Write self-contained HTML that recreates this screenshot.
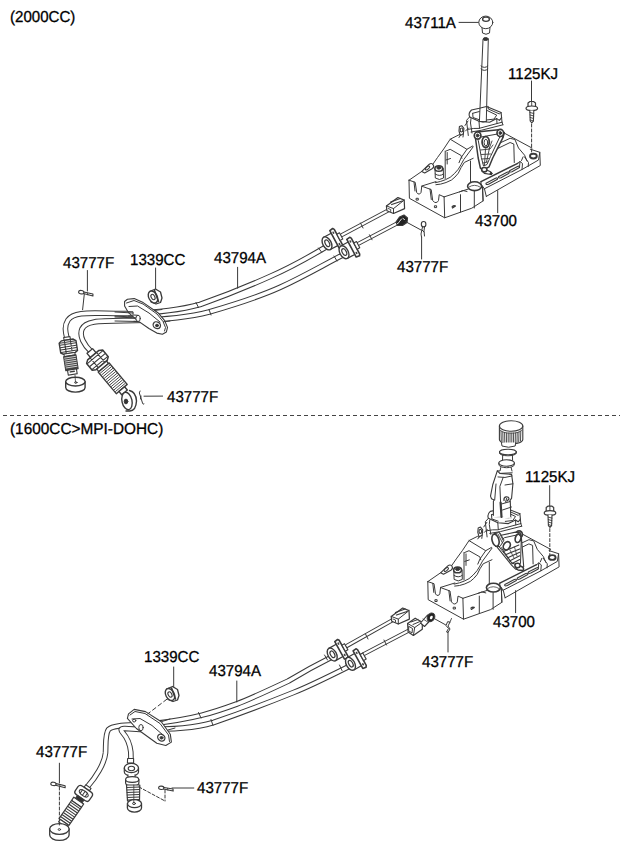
<!DOCTYPE html>
<html><head><meta charset="utf-8">
<style>
html,body{margin:0;padding:0;background:#fff;}
svg{display:block;}
text{text-rendering:geometricPrecision;font-family:"Liberation Sans",sans-serif;font-size:15.8px;fill:#000;stroke:#000;stroke-width:0.3px;}
</style></head><body>
<svg width="620" height="848" viewBox="0 0 620 848">
<g id="cab1" fill="none" stroke="#3a3a3a" stroke-width="1" stroke-linejoin="round" stroke-linecap="round">
 <!-- sheaths -->
 <path d="M 326 247 C 310 256.5, 292 267, 270 276.5 C 250 285.5, 230 294, 200 304.5 C 180 310, 160 312.5, 130 313.5 C 95 314, 75 310, 68 320 C 64 326, 65.5 332, 66.8 337.5" stroke="#3a3a3a" stroke-width="5.6"/>
 <path d="M 326 247 C 310 256.5, 292 267, 270 276.5 C 250 285.5, 230 294, 200 304.5 C 180 310, 160 312.5, 130 313.5 C 95 314, 75 310, 68 320 C 64 326, 65.5 332, 66.8 337.5" stroke="#fff" stroke-width="3.6"/>
 <path d="M 342 255.5 C 325 264, 305 276, 280 287.4 C 262 295.5, 240 303, 209 312 C 190 317, 170 319.5, 135 320.5 C 100 321, 86 320, 82 329 C 79 336, 84 345, 91.5 352" stroke="#3a3a3a" stroke-width="5.6"/>
 <path d="M 342 255.5 C 325 264, 305 276, 280 287.4 C 262 295.5, 240 303, 209 312 C 190 317, 170 319.5, 135 320.5 C 100 321, 86 320, 82 329 C 79 336, 84 345, 91.5 352" stroke="#fff" stroke-width="3.6"/>
 <path d="M196 302.5 L198.5 307.5 M209 309.5 L211 315 M318.5 248 L321.5 252 M334 256 L337 261"/>
 <!-- rods -->
 <path d="M 342 235 L 389 210" stroke="#3a3a3a" stroke-width="4.2"/>
 <path d="M 342 235 L 389 210" stroke="#fff" stroke-width="2.2"/>
 <path d="M 356 245 L 396 224" stroke="#3a3a3a" stroke-width="4.2"/>
 <path d="M 356 245 L 396 224" stroke="#fff" stroke-width="2.2"/>
 <path d="M360.5 223 L363 228 M369.5 234.8 L372 239.8"/>
 <!-- connector U -->
 <g transform="translate(-4.8 -410.5)"><g id="connU">
 <path d="M391.2 616.4 L402.7 608 L409 610.6 L409.4 619.1 L398.3 624 L391.7 621.3 Z" fill="#fff" stroke-width="1.2"/>
 <path d="M391.2 616.4 L398.3 619.1 L409 610.6 M398.3 619.1 L398.3 624" stroke-width="1"/>
 <path d="M395.5 612.5 L405 609 M396.5 615 L407 611.5" stroke-width="1.3"/>
 <path d="M393 619 L395.5 620 L395.5 622" stroke-width="0.9"/>
</g></g>
 <!-- eyelet L -->
 <path d="M396 222 L399.5 217 L404 215 L407.5 218 L407 222.5 L402.5 225.5 L397.5 225.5 Z" fill="#222" stroke-width="1.2"/>
 <path d="M399.5 221.5 L401.5 219 M397.5 223.5 L399 222.5 M403 218.5 L404.5 219.5" stroke="#fff" stroke-width="0.9"/>
 <line x1="405.5" y1="221.6" x2="421" y2="230"/>
 <!-- bushing U -->
 <g transform="translate(327 243.4) rotate(-28)">
  <path d="M0 -7 L9 -7 L9 7 L0 7" fill="#fff" stroke-width="1.2"/>
  <ellipse cx="0" cy="0" rx="4.2" ry="7" fill="#fff" stroke-width="1.4"/>
  <ellipse cx="0.3" cy="0" rx="2" ry="3.6" stroke-width="1.2"/>
  <path d="M8.5 -10 L12 -10.5 L13 -9 L13 9 L12 10.5 L8.5 10 Z" fill="#fff" stroke-width="1.6"/>
  <ellipse cx="10.7" cy="-6.5" rx="0.9" ry="1.3" fill="#444" stroke="none"/><ellipse cx="10.7" cy="6.5" rx="0.9" ry="1.3" fill="#444" stroke="none"/>
  <path d="M13 -3.5 L16 -3.5 L16 3.5 L13 3.5 Z" fill="#fff" stroke-width="1.1"/>
</g>
 <!-- bushing L -->
 <g transform="translate(344 252.2) rotate(-28)">
  <path d="M0 -7 L9 -7 L9 7 L0 7" fill="#fff" stroke-width="1.2"/>
  <ellipse cx="0" cy="0" rx="4.2" ry="7" fill="#fff" stroke-width="1.4"/>
  <ellipse cx="0.3" cy="0" rx="2" ry="3.6" stroke-width="1.2"/>
  <path d="M8.5 -10 L12 -10.5 L13 -9 L13 9 L12 10.5 L8.5 10 Z" fill="#fff" stroke-width="1.6"/>
  <ellipse cx="10.7" cy="-6.5" rx="0.9" ry="1.3" fill="#444" stroke="none"/><ellipse cx="10.7" cy="6.5" rx="0.9" ry="1.3" fill="#444" stroke="none"/>
  <path d="M13 -3.5 L16 -3.5 L16 3.5 L13 3.5 Z" fill="#fff" stroke-width="1.1"/>
</g>
 <!-- bracket plate -->
 <path d="M124.6 301.5 L127.4 299.2 L134.2 298.6 L143.2 302.6 L157.9 312.7 L164.7 320.6 L167.5 327.4 L166.4 331.9 L162.4 334.2 L156.8 333.1 L148.9 328.5 L137.6 320.6 L128.5 312.7 L124.6 306 Z" fill="#fff" stroke-width="1.1"/>
 <path d="M126.5 303 L134 300.5 L143 304 L157 314 L163 321.5 L165.5 327.5 L164.5 331"/>
 <path d="M129 306.5 L137.5 306 L149 313 L160 322"/>
 <ellipse cx="156.8" cy="325.2" rx="3.8" ry="3.2" transform="rotate(30 156.8 325.2)" stroke-width="1.3"/>
 <ellipse cx="157" cy="325.5" rx="1.5" ry="1.3" fill="#333"/>
 <!-- cables over bracket -->
 <path d="M115 312 L133 313 M115 316 L132 317" />
 <path d="M115 317 L138 318 M115 321 L138 321.5"/>
 <path d="M128.5 311.6 L133 311.8 L133 316.2 L128.5 316.1"/>
 <ellipse cx="138.1" cy="318.4" rx="2.2" ry="3.1" fill="#fff"/>
 <path d="M134 315 L138 315.3 M134 321.3 L138 321.5"/>
 <path d="M154.5 310.5 L162 309.5 M163.5 321.8 L170 321"/>
 <!-- nut 1339CC -->
 <line x1="155.6" y1="268" x2="155.6" y2="289.5"/>
 <path d="M149.5 291.5 L155.5 289 L160.5 292 L162 298 L160.5 302.5 L156 304 L151 302 Z" fill="#fff" stroke-width="1.3"/>
 <ellipse cx="153" cy="297" rx="4.2" ry="6.4" transform="rotate(-28 153 297)" fill="#fff" stroke-width="1.4"/>
 <path d="M154.5 290.5 L158.5 301.5" stroke-width="1.6"/>
 <ellipse cx="153" cy="297" rx="1.8" ry="2.9" transform="rotate(-28 153 297)" stroke-width="1.1"/>
 <!-- leader 43794A -->
 <line x1="237.6" y1="267.3" x2="237.6" y2="288.2"/>
 <!-- left clip 43777F -->
 <line x1="87.4" y1="270.5" x2="87.4" y2="291"/>
 <g transform="translate(78.6 291.8) rotate(8)"><ellipse cx="2.7" cy="0" rx="2.7" ry="1.7" stroke-width="1.1"/><path d="M5.3 -0.6 L14.5 0.2 L14.8 2.2 L5 1" stroke-width="1.1"/><path d="M9 0 L9.5 1.8" stroke-width="0.8"/></g>
 <path d="M84.3 294.2 L82.6 309.7"/>
 <!-- cable end A -->
 <g transform="translate(66.8 337) rotate(81)">
  <path d="M0 -3.2 L3 -3.2 L3 3.2 L0 3.2 Z" fill="#fff" stroke-width="1.1"/>
  <path d="M3 -6 L5 -8.5 L15 -8.5 L16.5 -6 L16.5 6 L15 8.5 L5 8.5 L3 6 Z" fill="#fff" stroke-width="1.4"/>
  <path d="M5 -8 L5 8 M7 -8 L7 8 M9.5 -8 L9.5 8 M12 -8 L12 8 M14.5 -8 L14.5 8 M3.5 -3 L16 -3 M3.5 3 L16 3" stroke-width="1"/>
  <path d="M16.5 -5.5 L19 -5.5 L19 5.5 L16.5 5.5 Z" fill="#fff"/>
  <path d="M19 -6.2 L33 -6.2 L33 6.2 L19 6.2 Z" fill="#444" stroke-width="1.2"/>
  <path d="M20.5 -5.5 L20.5 5.5 M22.5 -5.5 L22.5 5.5 M24.5 -5.5 L24.5 5.5 M26.5 -5.5 L26.5 5.5 M28.5 -5.5 L28.5 5.5 M30.5 -5.5 L30.5 5.5" stroke="#fff" stroke-width="0.7"/>
  <path d="M33 -4.5 L38 -4.5 L38 4.5 L33 4.5 Z" fill="#fff" stroke-width="1.1"/>
  <path d="M35 -2 L35 2" stroke-width="1.5"/>
 </g>
 <path d="M65.7 381.6 L65.7 387.5 A9.7 4.6 0 0 0 85.1 387.5 L85.1 381.6" fill="#fff" stroke-width="1.4"/>
 <ellipse cx="75.4" cy="381.6" rx="9.7" ry="4.4" fill="#fff" stroke-width="1.4"/>
 <path d="M75 375 L75.5 382" stroke-width="0.8"/>
 <ellipse cx="75.8" cy="382.5" rx="1.2" ry="0.8"/>
 <!-- cable end B -->
 <g transform="translate(89.8 351) rotate(50) scale(1.08 1.05)">
  <path d="M0 -3.5 L5 -3.5 L5 3.5 L0 3.5 Z" fill="#fff" stroke-width="1.2"/>
  <path d="M5 -7 L7 -10 L15 -10 L17 -7 L17 7 L15 10 L7 10 L5 7 Z" fill="#fff" stroke-width="1.4"/>
  <path d="M7.5 -9.5 L7.5 9.5 M11 -9.5 L11 9.5 M14.5 -9.5 L14.5 9.5 M5.5 -4 L16.5 -4 M5.5 4 L16.5 4" stroke-width="1"/>
  <path d="M17 -6 L20 -6 L20 6 L17 6 Z" fill="#fff" stroke-width="1.2"/>
  <path d="M20 -6.8 L46 -6.8 L46 6.8 L20 6.8 Z" fill="#fff" stroke-width="1.3"/>
  <path d="M22 -6 L22 6 M24 -6 L24 6 M26 -6 L26 6 M28 -6 L28 6 M30 -6 L30 6 M32 -6 L32 6 M34 -6 L34 6 M36 -6 L36 6 M38 -6 L38 6 M40 -6 L40 6 M42 -6 L42 6 M44 -6 L44 6" stroke-width="0.8"/>
  <path d="M46 -3.5 L50 -3.5 L50 3.5 L46 3.5 Z" fill="#fff" stroke-width="1.3"/>
 </g>
 <path d="M129.5 390.5 Q136 392 136.5 401 Q136 410.5 130 411 L126 411" fill="#fff" stroke-width="1.4"/>
 <ellipse cx="127" cy="401" rx="5" ry="8.8" transform="rotate(-12 127 401)" fill="#fff" stroke-width="1.4"/>
 <ellipse cx="126" cy="401.5" rx="1.8" ry="2.4" fill="#333"/>
 <!-- clip 43777F bottom -->
 <path d="M140 391 Q138.5 393 140 395 L142.5 403 Q143 405 144 404 M141 396 L140.5 399" stroke-width="1"/>
 <line x1="144" y1="396.2" x2="162.6" y2="396.1"/>
 <!-- clip 43777F right -->
 <ellipse cx="423.6" cy="224.2" rx="2.3" ry="2.7" stroke-width="1.1"/>
 <path d="M422.5 227 L421 234 L421.5 237 M424.5 227 L424 231 L424.5 236 M422 230 L424 232" stroke-width="1"/>
 <line x1="421.6" y1="237" x2="421.6" y2="259"/>
</g>
<g id="shift1" fill="none" stroke="#3a3a3a" stroke-width="1" stroke-linejoin="round" stroke-linecap="round"><!-- ===== base ===== -->
 <path d="M409 180.2 L409.4 198.3 L444.7 217.8 L444.1 196.9"/>
 <path d="M409 180.2 L415.2 182.3 L416.7 192.5 Q418 194.5 419.2 194 Q420.8 193.5 421 192.5 L421.8 186 L423.2 186.7 L431.2 189.6 L432.7 200.5 Q434.5 203 436 202.6 Q438 202 438.5 200.5 L439.2 194.7 L444.1 196.9"/>
 <path d="M414 182 L415 191 M430 189 L431.3 199.5"/>
 <rect x="416.5" y="198.3" width="1.8" height="1.8"/>
 <rect x="434.8" y="205.8" width="1.8" height="1.8"/>
 <path d="M421.8 186 L436 181.6"/>
 <path d="M409 180.2 L421.8 171.4"/>
 <path d="M421.8 171.4 L429 164.5 Q431.5 162.5 433.2 164.8 Q434.5 166.8 432.5 168.5 L424.7 172.9 Z" fill="#fff" stroke-width="1.1"/>
 <ellipse cx="427.5" cy="168" rx="2.6" ry="1.2" transform="rotate(-40 427.5 168)"/>
 <!-- nut column -->
 <path d="M435 168.5 L435.3 178 Q439.5 181 443.5 178 L443.3 168.5" fill="#fff"/>
 <ellipse cx="438.8" cy="168.5" rx="3.9" ry="2.8" fill="#fff" stroke-width="1.6"/>
 <ellipse cx="438.8" cy="167.8" rx="2" ry="1.4" fill="#333"/>
 <path d="M435.2 174 Q439.5 177 443.4 174"/>
 <!-- tower -->
 <path d="M433 164 L437.5 157.5 L443.7 149 L450.2 139.2 L459 134.8 L460.4 134.4"/>
 <path d="M450.2 139.2 L466.9 149.3 L472.7 146"/>
 <path d="M466.9 149.3 L461.1 157.7 L459 162.7"/>
 <path d="M445.2 151.1 L445.2 178.5"/>
 <path d="M445.9 151.1 L450.2 149.3 L461.1 155.5 L461.9 158.4 M447.2 152.5 L447.2 164 M446 160 L450.5 158.5"/>
 <path d="M473.2 146.8 L463.7 159.7 Q461 165 458.3 169.2 Q454.5 174 450.2 177.3 Q445.5 180 440.7 181.4 L435.3 182.7"/>
 <path d="M473.2 158.3 L464.4 162.4 Q461 167 458.3 173.2 Q455 177.5 451.5 180 Q446 183 440.7 184.1 L435.9 184.7"/>
 <path d="M470.5 161 L470.5 183"/>
 <!-- front block -->
 <path d="M444.1 196.9 L459.4 191.9 L468.4 189"/>
 <path d="M444.7 217.8 L460.5 212.2 L471.8 208.2 L483.1 200.9 L482.5 186.8"/>
 <path d="M460.5 194.7 L460.5 212.2 M474.3 191.3 L474.3 208 M482.5 186.8 L483.1 200.9"/>
 <ellipse cx="474.6" cy="186.2" rx="7" ry="4.4" fill="#fff" stroke-width="1.6"/>
 <path d="M469 187 Q474.5 183.5 480 187" stroke-width="0.8"/>
 <path d="M452.5 208 L455.5 206 M452 206.8 Q453.5 205.3 455 205.8" stroke-width="1.2"/>
 <path d="M459.4 191.9 L463 190.5 L467 191.5"/>
 <!-- platform -->
 <path d="M486.3 196.4 L540.3 165.5 L539.8 152.3 L530.3 149.2"/>
 <path d="M484 189 L522 169.5 L538.5 160 L539.8 152.3"/>
 <path d="M486.3 196.4 L484.5 189 L481 184 L481 181.7"/>
 <path d="M481 181.7 L517.7 163.3" stroke-width="1.5"/>
 <path d="M517.7 163.3 L520 161.5 L522.5 163.5 L522 169.5 M520 161.5 L519.5 167"/>
 <g transform="translate(0.5 -2.8)"><path d="M485.5 186 L495 181 Q497.5 180 497 182 L488 187 Q485 188 485.5 186 Z" stroke-width="1.1"/><path d="M498 179.5 L506.5 175 Q509 174 508.5 176 L500.5 180.5 Q497.5 181.5 498 179.5 Z" stroke-width="1.1"/><path d="M509 173.5 L517 169.3 Q519.5 168.3 519 170.3 L511.5 174.5 Q508.5 175.5 509 173.5 Z" stroke-width="1.1"/></g>
 <ellipse cx="533.4" cy="156.1" rx="3.4" ry="2.4" stroke-width="1.9"/>
 <path d="M524.4 156.8 L528.5 162.5 L528.2 166.5"/>
 <!-- rear bracket -->
 <path d="M502.8 132.3 L531.9 148"/>
 <path d="M496.8 144.4 L510.1 138.3 L514.9 139.5 L518.5 148 L524.6 155.2 L527 161"/>
 <path d="M497.5 148.6 L510.1 142.5 L513.8 144 L514.3 162.5"/>
 <path d="M521.5 160.5 L523 157"/>
 <!-- lever plate -->
 <path d="M475.3 137 L476.8 131.9 L498.5 129.8 L504.3 132.7 L502.9 137.7 L492.7 158 L489.1 166.8 L484 169.7 L480.4 168.2 L478.2 158 Z" fill="#fff" stroke-width="1.5"/>
 <path d="M478.5 140 L481 137 L497.5 134 L500 136.5 L490.5 156.5 L487 164.5 L483.5 166 L481.5 158 Z" stroke-width="1"/>
 <ellipse cx="485.7" cy="142.1" rx="3.6" ry="5.4" stroke-width="1.8"/>
 <ellipse cx="485.9" cy="142.6" rx="1.8" ry="3.3" stroke-width="1"/>
 <path d="M480.5 150 L490 149 L493 145 M481.5 154.5 L490.5 154 M482 159 L488.5 158.5 M483 163 L487.5 162" stroke-width="0.9"/>
 <path d="M485.5 149 L484.5 165 M489.5 148 L486.5 162 M492 141 L489 149" stroke-width="0.9"/>
 <path d="M502.9 137.7 L501 134.5" />
 <!-- pin -->
 <path d="M482.3 168 L490.5 171.8 Q492.5 173.5 491 174.5 L484.5 173.4 Q481.5 171.5 482.3 168 Z" fill="#fff" stroke-width="1.2"/>
 <ellipse cx="484.3" cy="169.7" rx="2.6" ry="2.2" fill="#fff" stroke-width="1.6"/>
 <ellipse cx="491" cy="173.5" rx="1" ry="1.2" fill="#333"/>
<!-- yoke -->
 <path d="M469.6 116.9 Q468 113 471.5 110 L479.4 108.3 L486.5 106.5 L501.1 112.4 L501.6 117.7 L499.4 120.4 L496.7 118.6 L489.6 122.2 L479 121.3 Z" fill="#fff" stroke-width="1.1"/>
 <path d="M472.7 113.3 L479.4 111.5 M486.5 110.2 L496.7 115.1 L494 119.1 L486.5 120 M479.4 119.8 L473 117.5 L472.7 113.3" stroke-width="1"/>
 <path d="M488 106.3 L488.3 109 L499.5 114 L501.1 112.4"/>
 <path d="M469.6 116.9 L466.5 120.4 L468.3 135.5 M471 118.5 L470.5 123 L472 133"/>
 <path d="M468.3 129.3 Q474 128 479 128.4 L502 122.2 M471 132 L481.6 130.2 L502.9 124.8 M502 122.2 L502.9 124.8"/>
 <path d="M479 121.3 L479.5 128.3 M496.7 118.6 L497 123.5 M501.6 117.7 L502 122.2"/>
 <path d="M465 125.5 L468 121 M465.5 131 L468.5 128"/>
 <path d="M459.4 126.6 L461.7 125.7 L463.9 128.4 L463.4 133.7 L460.3 135.5 L459 131 Z" fill="#fff" stroke-width="1.1"/>
 <ellipse cx="461.5" cy="130" rx="1.3" ry="2" stroke-width="1.1"/>
 <path d="M460.3 135.5 L459 137.5 M463.4 133.7 L463 137"/>
 <ellipse cx="477.6" cy="135.5" rx="3.3" ry="3.6" fill="#fff" stroke-width="1.7"/>
 <ellipse cx="500.3" cy="133" rx="3.3" ry="3.6" fill="#fff" stroke-width="1.7"/>
 <ellipse cx="477.6" cy="135.5" rx="1.3" ry="1.5" fill="#333"/>
 <ellipse cx="500.3" cy="133" rx="1.3" ry="1.5" fill="#333"/>
<!-- knob -->
 <line x1="459" y1="22.4" x2="479" y2="22.4"/>
 <path d="M482 27.5 L482.5 33 Q486 35.5 489.5 33 L490 27.5" fill="#fff"/>
 <ellipse cx="485.8" cy="22.4" rx="7" ry="6.3" fill="#fff"/>
 <ellipse cx="486" cy="19.2" rx="3.4" ry="2.1" stroke-width="1.3"/>
 <ellipse cx="485.7" cy="39" rx="2.5" ry="1.5" fill="#333"/>
 <!-- rod -->
 <path d="M483 39.5 L479.4 121.8 M488.3 39.5 L486.3 121.8" />
 <path d="M479.6 121.5 Q483 123 486.3 121.5"/>
 <path d="M481 66 Q484.5 69 487.8 66 M481 69 Q484.5 72 487.8 69"/>
 <!-- bolt 1125KJ -->
 <line x1="531.5" y1="81" x2="531.5" y2="102"/>
 <path d="M528 103 L530 101.5 L533.5 101.5 L535.5 103 L535.5 107.5 L528 107.5 Z" fill="#fff" stroke-width="1.2"/>
 <path d="M531.7 101.8 L531.7 107.5" stroke-width="0.9"/>
 <ellipse cx="531.8" cy="108.3" rx="5.8" ry="2.3" fill="#fff" stroke-width="1.2"/>
 <path d="M529.8 110.5 L530.2 121 L531.8 122.8 L533.4 121 L533.8 110.5" fill="#fff" stroke-width="1.1"/>
 <path d="M530 112.5 L533.8 113.5 M530.1 115 L533.7 116 M530.2 117.5 L533.6 118.5 M530.3 120 L533.5 121" stroke-width="0.9"/>
 <line x1="531.6" y1="124" x2="531.6" y2="153" stroke-dasharray="3 2"/>
<!-- leader 43700 -->
 <line x1="497.7" y1="190.6" x2="497.7" y2="212.7"/>
</g>
<g id="cab2" fill="none" stroke="#3a3a3a" stroke-width="1" stroke-linejoin="round" stroke-linecap="round"> <!-- sheaths -->
 <path d="M 331 657.5 C 310 668, 300 674, 288.4 681 C 265 692, 245 701, 236.8 704 C 215 712, 195 719, 150 724 C 130 725.5, 114 724.5, 108.5 729.5 C 105 734, 106 745, 105.5 753 C 104.5 764, 95 778, 88 786" stroke="#3a3a3a" stroke-width="5.6"/>
 <path d="M 331 657.5 C 310 668, 300 674, 288.4 681 C 265 692, 245 701, 236.8 704 C 215 712, 195 719, 150 724 C 130 725.5, 114 724.5, 108.5 729.5 C 105 734, 106 745, 105.5 753 C 104.5 764, 95 778, 88 786" stroke="#fff" stroke-width="3.6"/>
 <path d="M 349 666.5 C 320 681, 300 690, 293.5 692.5 C 270 702, 250 710, 213.5 722.5 C 195 728, 175 729.5, 140 729.5 L 125 728.5 Q 118.5 728, 123 733 C 127.5 738, 130 745, 130.8 752 L 131 760" stroke="#3a3a3a" stroke-width="5.6"/>
 <path d="M 349 666.5 C 320 681, 300 690, 293.5 692.5 C 270 702, 250 710, 213.5 722.5 C 195 728, 175 729.5, 140 729.5 L 125 728.5 Q 118.5 728, 123 733 C 127.5 738, 130 745, 130.8 752 L 131 760" stroke="#fff" stroke-width="3.6"/>
 <path d="M198.5 712.5 L201 718 M211 719.5 L213 725.5 M324.5 655 L327.5 660 M339.5 665 L342 670.5"/>
 <!-- rods -->
 <path d="M 347 645.8 L 392 620.5" stroke="#3a3a3a" stroke-width="4.2"/>
 <path d="M 347 645.8 L 392 620.5" stroke="#fff" stroke-width="2.2"/>
 <path d="M 363 654.5 L 408 631" stroke="#3a3a3a" stroke-width="4.2"/>
 <path d="M 363 654.5 L 408 631" stroke="#fff" stroke-width="2.2"/>
 <path d="M365.5 634 L368 639 M384 640 L386.5 645"/>
 <!-- connector U2 -->
 <g id="connU">
 <path d="M391.2 616.4 L402.7 608 L409 610.6 L409.4 619.1 L398.3 624 L391.7 621.3 Z" fill="#fff" stroke-width="1.2"/>
 <path d="M391.2 616.4 L398.3 619.1 L409 610.6 M398.3 619.1 L398.3 624" stroke-width="1"/>
 <path d="M395.5 612.5 L405 609 M396.5 615 L407 611.5" stroke-width="1.3"/>
 <path d="M393 619 L395.5 620 L395.5 622" stroke-width="0.9"/>
</g>
 <!-- connector L2 -->
 <path d="M407.6 623.5 L415.2 618.2 L422.3 622.2 L422.3 629.3 L413.4 635.5 L408.1 632 Z" fill="#fff" stroke-width="1.2"/>
 <path d="M407.6 623.5 L414.7 627.5 L422.3 622.2 M414.7 627.5 L413.4 635.5" stroke-width="1"/>
 <path d="M409 626.5 L412.5 628.5 L412 633 L409 631 Z" stroke-width="1"/>
 <path d="M411 622 L418 619.5 M413 624.5 L420 621.5" stroke-width="1"/>
 <!-- eyelet link -->
 <path d="M420.5 623 L427.5 615 L431.5 619 L424.5 626.5 Z" fill="#fff" stroke-width="1.1"/>
 <path d="M423 619 L428.5 622.5" stroke-width="0.8"/>
 <ellipse cx="431" cy="617.3" rx="3.6" ry="4.6" transform="rotate(30 431 617.3)" fill="#222" stroke-width="1"/>
 <ellipse cx="431.3" cy="617.5" rx="1.3" ry="1.9" transform="rotate(30 431.3 617.5)" fill="#fff" stroke="none"/>
 <line x1="435" y1="619" x2="445.5" y2="624.8"/>
 <!-- clip 43777F -->
 <path d="M447.5 622 L446 625.5 L448.5 628.5 L446.5 632 L448 632.5 L450 629 L448 626 L449.8 622.5 Z" stroke-width="1"/>
 <path d="M449.8 622.5 L451.5 618.5" stroke-width="0.9"/>
 <line x1="448" y1="632" x2="448" y2="652"/>
 <!-- bushings -->
 <g transform="translate(332.2 654.5) rotate(-29)">
  <path d="M0 -7 L9 -7 L9 7 L0 7" fill="#fff" stroke-width="1.2"/>
  <ellipse cx="0" cy="0" rx="4.2" ry="7" fill="#fff" stroke-width="1.4"/>
  <ellipse cx="0.3" cy="0" rx="2" ry="3.6" stroke-width="1.2"/>
  <path d="M8.5 -10 L12 -10.5 L13 -9 L13 9 L12 10.5 L8.5 10 Z" fill="#fff" stroke-width="1.6"/>
  <ellipse cx="10.7" cy="-6.5" rx="0.9" ry="1.3" fill="#444" stroke="none"/><ellipse cx="10.7" cy="6.5" rx="0.9" ry="1.3" fill="#444" stroke="none"/>
  <path d="M13 -3.5 L16 -3.5 L16 3.5 L13 3.5 Z" fill="#fff" stroke-width="1.1"/>
</g>
 <g transform="translate(350.5 663.8) rotate(-29)">
  <path d="M0 -7 L9 -7 L9 7 L0 7" fill="#fff" stroke-width="1.2"/>
  <ellipse cx="0" cy="0" rx="4.2" ry="7" fill="#fff" stroke-width="1.4"/>
  <ellipse cx="0.3" cy="0" rx="2" ry="3.6" stroke-width="1.2"/>
  <path d="M8.5 -10 L12 -10.5 L13 -9 L13 9 L12 10.5 L8.5 10 Z" fill="#fff" stroke-width="1.6"/>
  <ellipse cx="10.7" cy="-6.5" rx="0.9" ry="1.3" fill="#444" stroke="none"/><ellipse cx="10.7" cy="6.5" rx="0.9" ry="1.3" fill="#444" stroke="none"/>
  <path d="M13 -3.5 L16 -3.5 L16 3.5 L13 3.5 Z" fill="#fff" stroke-width="1.1"/>
</g>
 <!-- bracket plate -->
 <path d="M128.5 713.9 L134.2 709.4 L145.5 711.6 L161.3 721.8 L170.3 734.2 L171.4 742.1 L165.8 745.5 L156.8 743.2 L136.4 728.5 L127.4 718.4 Z" fill="#fff" stroke-width="1.1"/>
 <path d="M130 715 L135 711.5 L145 713.5 L160 723.5 L168.5 735 L169.5 741.5"/>
 <path d="M132 719 L140 718.5 L152 725.5 L163 735"/>
 <ellipse cx="161.3" cy="737.6" rx="3.8" ry="3.2" transform="rotate(35 161.3 737.6)" stroke-width="1.3"/>
 <ellipse cx="161.5" cy="737.8" rx="1.5" ry="1.3" fill="#333"/>
 <ellipse cx="134.2" cy="720.6" rx="1.6" ry="1.4"/>
 <!-- cables over bracket -->
 <ellipse cx="141" cy="727.6" rx="2.2" ry="3.1" fill="#fff"/>
 <path d="M162 721.5 L170 719 M168 730 L175 728"/>
 <!-- nut 1339CC -->
 <line x1="173.7" y1="667" x2="173.7" y2="687"/>
 <g transform="translate(17 397.5)">
 <path d="M149.5 291.5 L155.5 289 L160.5 292 L162 298 L160.5 302.5 L156 304 L151 302 Z" fill="#fff" stroke-width="1.3"/>
 <ellipse cx="153" cy="297" rx="4.2" ry="6.4" transform="rotate(-28 153 297)" fill="#fff" stroke-width="1.4"/>
 <path d="M154.5 290.5 L158.5 301.5" stroke-width="1.6"/>
 <ellipse cx="153" cy="297" rx="1.8" ry="2.9" transform="rotate(-28 153 297)" stroke-width="1.1"/>
 </g>
 <line x1="166.9" y1="699.2" x2="147.7" y2="713.9" stroke-dasharray="4 3"/>
 <!-- leader 43794A -->
 <line x1="236.8" y1="681" x2="236.8" y2="702"/>
 <!-- cable end A2 -->
 <g transform="translate(88.4 786.6) rotate(124.6)">
  <path d="M0 -3.2 L3 -3.2 L3 3.2 L0 3.2 Z" fill="#fff" stroke-width="1.1"/>
  <path d="M3 -5 Q3 -8.5 6 -8.5 L11 -8.5 Q13.5 -8.5 13.5 -5 L13.5 5 Q13.5 8.5 11 8.5 L6 8.5 Q3 8.5 3 5 Z" fill="#fff" stroke-width="1.3"/>
  <ellipse cx="8.2" cy="0" rx="2.5" ry="5.2" stroke-width="1.1"/>
  <path d="M6 -3 L10 -3 M6 0 L10.5 0 M6 3 L10 3" stroke-width="1"/>
  <path d="M13.5 -4 L17 -4 L17 4 L13.5 4 Z" fill="#333" stroke-width="1"/>
  <path d="M17 -6 L21 -6 L21 6 L17 6 Z" fill="#fff" stroke-width="1.2"/>
  <path d="M21 -6 L43 -6 L43 6 L21 6 Z" fill="#fff" stroke-width="1.2"/>
  <path d="M23 -5.5 L23 5.5 M25.5 -5.5 L25.5 5.5 M28 -5.5 L28 5.5 M30.5 -5.5 L30.5 5.5 M33 -5.5 L33 5.5 M35.5 -5.5 L35.5 5.5 M38 -5.5 L38 5.5 M40.5 -5.5 L40.5 5.5" stroke-width="1.1"/>
  <path d="M43 -4.5 L46 -4.5 L46 4.5 L43 4.5 Z" fill="#fff" stroke-width="1.1"/>
 </g>
 <path d="M49.7 829 L49.7 835 A9.7 5.4 0 0 0 69.1 835 L69.1 829" fill="#fff" stroke-width="1.3"/>
 <ellipse cx="59.4" cy="829" rx="9.7" ry="5.4" fill="#fff" stroke-width="1.3"/>
 <ellipse cx="59.4" cy="829.5" rx="1.2" ry="0.9"/>
 <!-- leader A2 + clip -->
 <line x1="59.4" y1="763.2" x2="59.4" y2="783"/>
 <g transform="translate(50.8 783.5) rotate(8)"><ellipse cx="2.7" cy="0" rx="2.7" ry="1.7" stroke-width="1.1"/><path d="M5.3 -0.6 L14.5 0.2 L14.8 2.2 L5 1" stroke-width="1.1"/><path d="M9 0 L9.5 1.8" stroke-width="0.8"/></g>
 <line x1="59.4" y1="787" x2="59.4" y2="825" stroke-dasharray="3 2"/>
 <!-- cable end B2 -->
 <path d="M127.6 758.5 L127.4 763 L133.6 763 L133.6 758.5 Z" fill="#fff" stroke-width="1.1"/>
 <path d="M124.3 768 L124.3 772 A7.1 4 0 0 0 138.5 772 L138.5 768" fill="#fff" stroke-width="1.2"/>
 <ellipse cx="131.4" cy="768" rx="7.1" ry="4.6" fill="#fff" stroke-width="1.3"/>
 <ellipse cx="131.4" cy="768.5" rx="3.2" ry="2.2" stroke-width="1.1"/>
 <path d="M128 775 L128 778 L135 778 L135 775" fill="#fff"/>
 <path d="M125.6 779.5 L125.6 783 A6.6 2.8 0 0 0 138.9 783 L138.9 779.5" fill="#fff" stroke-width="1.2"/>
 <ellipse cx="132.2" cy="779.5" rx="6.6" ry="2.8" fill="#fff" stroke-width="1.2"/>
 <path d="M126.5 785 L127.5 801 L139.5 801 L139.8 785 Z" fill="#fff" stroke-width="1.2"/>
 <path d="M126.8 787.5 L139.7 787 M127 790 L139.6 789.5 M127.1 792.5 L139.6 792 M127.2 795 L139.6 794.5 M127.3 797.5 L139.5 797 M127.4 800 L139.5 799.5" stroke-width="1"/>
 <path d="M127.4 803.7 L127.4 808 A7 4 0 0 0 141.5 808 L141.5 803.7" fill="#fff" stroke-width="1.3"/>
 <ellipse cx="134.5" cy="803.7" rx="7" ry="4" fill="#fff" stroke-width="1.3"/>
 <ellipse cx="134" cy="803.5" rx="1.5" ry="1" stroke-width="1"/>
 <path d="M133.8 785 L133.8 802.5" stroke-width="0.8"/>
 <!-- clip 43777F B2 -->
 <path d="M139 787 L165 801 M165 790 L165 801" stroke-dasharray="3 2"/>
 <g transform="translate(158.6 787.6) rotate(5)"><ellipse cx="2.7" cy="0" rx="2.7" ry="1.7" stroke-width="1.1"/><path d="M5.3 -0.6 L14.5 0.2 L14.8 2.2 L5 1" stroke-width="1.1"/><path d="M9 0 L9.5 1.8" stroke-width="0.8"/></g>
 <line x1="172" y1="788" x2="193.8" y2="788"/>
</g>
<g id="shift2" fill="none" stroke="#3a3a3a" stroke-width="1" stroke-linejoin="round" stroke-linecap="round"><g transform="translate(18.8 401.4)"><!-- ===== base ===== -->
 <path d="M409 180.2 L409.4 198.3 L444.7 217.8 L444.1 196.9"/>
 <path d="M409 180.2 L415.2 182.3 L416.7 192.5 Q418 194.5 419.2 194 Q420.8 193.5 421 192.5 L421.8 186 L423.2 186.7 L431.2 189.6 L432.7 200.5 Q434.5 203 436 202.6 Q438 202 438.5 200.5 L439.2 194.7 L444.1 196.9"/>
 <path d="M414 182 L415 191 M430 189 L431.3 199.5"/>
 <rect x="416.5" y="198.3" width="1.8" height="1.8"/>
 <rect x="434.8" y="205.8" width="1.8" height="1.8"/>
 <path d="M421.8 186 L436 181.6"/>
 <path d="M409 180.2 L421.8 171.4"/>
 <path d="M421.8 171.4 L429 164.5 Q431.5 162.5 433.2 164.8 Q434.5 166.8 432.5 168.5 L424.7 172.9 Z" fill="#fff" stroke-width="1.1"/>
 <ellipse cx="427.5" cy="168" rx="2.6" ry="1.2" transform="rotate(-40 427.5 168)"/>
 <!-- nut column -->
 <path d="M435 168.5 L435.3 178 Q439.5 181 443.5 178 L443.3 168.5" fill="#fff"/>
 <ellipse cx="438.8" cy="168.5" rx="3.9" ry="2.8" fill="#fff" stroke-width="1.6"/>
 <ellipse cx="438.8" cy="167.8" rx="2" ry="1.4" fill="#333"/>
 <path d="M435.2 174 Q439.5 177 443.4 174"/>
 <!-- tower -->
 <path d="M433 164 L437.5 157.5 L443.7 149 L450.2 139.2 L459 134.8 L460.4 134.4"/>
 <path d="M450.2 139.2 L466.9 149.3 L472.7 146"/>
 <path d="M466.9 149.3 L461.1 157.7 L459 162.7"/>
 <path d="M445.2 151.1 L445.2 178.5"/>
 <path d="M445.9 151.1 L450.2 149.3 L461.1 155.5 L461.9 158.4 M447.2 152.5 L447.2 164 M446 160 L450.5 158.5"/>
 <path d="M473.2 146.8 L463.7 159.7 Q461 165 458.3 169.2 Q454.5 174 450.2 177.3 Q445.5 180 440.7 181.4 L435.3 182.7"/>
 <path d="M473.2 158.3 L464.4 162.4 Q461 167 458.3 173.2 Q455 177.5 451.5 180 Q446 183 440.7 184.1 L435.9 184.7"/>
 <path d="M470.5 161 L470.5 183"/>
 <!-- front block -->
 <path d="M444.1 196.9 L459.4 191.9 L468.4 189"/>
 <path d="M444.7 217.8 L460.5 212.2 L471.8 208.2 L483.1 200.9 L482.5 186.8"/>
 <path d="M460.5 194.7 L460.5 212.2 M474.3 191.3 L474.3 208 M482.5 186.8 L483.1 200.9"/>
 <ellipse cx="474.6" cy="186.2" rx="7" ry="4.4" fill="#fff" stroke-width="1.6"/>
 <path d="M469 187 Q474.5 183.5 480 187" stroke-width="0.8"/>
 <path d="M452.5 208 L455.5 206 M452 206.8 Q453.5 205.3 455 205.8" stroke-width="1.2"/>
 <path d="M459.4 191.9 L463 190.5 L467 191.5"/>
 <!-- platform -->
 <path d="M486.3 196.4 L540.3 165.5 L539.8 152.3 L530.3 149.2"/>
 <path d="M484 189 L522 169.5 L538.5 160 L539.8 152.3"/>
 <path d="M486.3 196.4 L484.5 189 L481 184 L481 181.7"/>
 <path d="M481 181.7 L517.7 163.3" stroke-width="1.5"/>
 <path d="M517.7 163.3 L520 161.5 L522.5 163.5 L522 169.5 M520 161.5 L519.5 167"/>
 <g transform="translate(0.5 -2.8)"><path d="M485.5 186 L495 181 Q497.5 180 497 182 L488 187 Q485 188 485.5 186 Z" stroke-width="1.1"/><path d="M498 179.5 L506.5 175 Q509 174 508.5 176 L500.5 180.5 Q497.5 181.5 498 179.5 Z" stroke-width="1.1"/><path d="M509 173.5 L517 169.3 Q519.5 168.3 519 170.3 L511.5 174.5 Q508.5 175.5 509 173.5 Z" stroke-width="1.1"/></g>
 <ellipse cx="533.4" cy="156.1" rx="3.4" ry="2.4" stroke-width="1.9"/>
 <path d="M524.4 156.8 L528.5 162.5 L528.2 166.5"/>
 <!-- rear bracket -->
 <path d="M502.8 132.3 L531.9 148"/>
 <path d="M496.8 144.4 L510.1 138.3 L514.9 139.5 L518.5 148 L524.6 155.2 L527 161"/>
 <path d="M497.5 148.6 L510.1 142.5 L513.8 144 L514.3 162.5"/>
 <path d="M521.5 160.5 L523 157"/>
 <!-- yoke -->
 <path d="M469.6 116.9 Q468 113 471.5 110 L479.4 108.3 L486.5 106.5 L501.1 112.4 L501.6 117.7 L499.4 120.4 L496.7 118.6 L489.6 122.2 L479 121.3 Z" fill="#fff" stroke-width="1.1"/>
 <path d="M472.7 113.3 L479.4 111.5 M486.5 110.2 L496.7 115.1 L494 119.1 L486.5 120 M479.4 119.8 L473 117.5 L472.7 113.3" stroke-width="1"/>
 <path d="M488 106.3 L488.3 109 L499.5 114 L501.1 112.4"/>
 <path d="M469.6 116.9 L466.5 120.4 L468.3 135.5 M471 118.5 L470.5 123 L472 133"/>
 <path d="M468.3 129.3 Q474 128 479 128.4 L502 122.2 M471 132 L481.6 130.2 L502.9 124.8 M502 122.2 L502.9 124.8"/>
 <path d="M479 121.3 L479.5 128.3 M496.7 118.6 L497 123.5 M501.6 117.7 L502 122.2"/>
 <path d="M465 125.5 L468 121 M465.5 131 L468.5 128"/>
 <path d="M459.4 126.6 L461.7 125.7 L463.9 128.4 L463.4 133.7 L460.3 135.5 L459 131 Z" fill="#fff" stroke-width="1.1"/>
 <ellipse cx="461.5" cy="130" rx="1.3" ry="2" stroke-width="1.1"/>
 <path d="M460.3 135.5 L459 137.5 M463.4 133.7 L463 137"/>
 <ellipse cx="477.6" cy="135.5" rx="3.3" ry="3.6" fill="#fff" stroke-width="1.7"/>
 <ellipse cx="500.3" cy="133" rx="3.3" ry="3.6" fill="#fff" stroke-width="1.7"/>
 <ellipse cx="477.6" cy="135.5" rx="1.3" ry="1.5" fill="#333"/>
 <ellipse cx="500.3" cy="133" rx="1.3" ry="1.5" fill="#333"/>
</g> <!-- 1600 lever plate -->
 <path d="M494.7 544.2 L511.6 565.2 L515.6 569.2 L520.5 570 L523.7 566.8 L521.3 536.1 L520.5 532.9 L515.6 532.1 L501.1 535.3 Z" fill="#fff" stroke-width="1.1"/>
 <path d="M500.3 541 L504.4 537.7 L518.9 534.5 L521.3 537.7 L520.5 563.5 L517.3 565.2 L511.6 562.7 L501.1 547.4" stroke-width="1"/>
 <ellipse cx="518.1" cy="538.2" rx="2.8" ry="4.4" transform="rotate(15 518.1 538.2)" stroke-width="1.7"/>
 <ellipse cx="506.8" cy="545.8" rx="3.2" ry="4.4" transform="rotate(30 506.8 545.8)" stroke-width="1.7"/>
 <path d="M503.5 551.5 L518.9 545 M505.5 554.7 L519.7 548.9 M507.4 557.9 L519.7 552.2 M509.5 561 L519.7 555.8 M512 563.5 L519.7 559.5" stroke-width="1.1"/>
 <path d="M498.5 546 L512.5 564" stroke-width="1"/>
 <path d="M510 550 L514 558 M514.5 547 L517 556" stroke-width="0.8"/>
 <!-- roller -->
 <path d="M495 534 L499 532 L503.5 541 L500 546.5 L495.5 546.5" fill="#fff"/>
 <ellipse cx="495.5" cy="540.2" rx="3.4" ry="6.2" transform="rotate(-15 495.5 540.2)" fill="#fff" stroke-width="1.6"/>
 <path d="M498 534 L502.5 543 M500 533 L504 540" stroke-width="0.9"/>
 <!-- pin -->
 <path d="M516 564 L522.5 567 Q524.5 569 523 570.5 L518 570 Q515 568 516 564 Z" fill="#fff" stroke-width="1.4"/>
 <ellipse cx="517.5" cy="565.5" rx="2.6" ry="2.2" fill="#fff" stroke-width="1.5"/>
  <!-- 1600 knob -->
 <path d="M499.4 426 L499.4 439.5 A11.7 4.5 0 0 0 522.8 439.5 L522.8 426" fill="#fff" stroke-width="1.1"/>
 <ellipse cx="511.1" cy="426" rx="11.7" ry="5.2" fill="#fff" stroke-width="1.1"/>
 <path d="M501 431 L501.3 441 M502.8 432 L503 442 M504.6 432.5 L504.8 443 M506.4 433 L506.5 443.5 M508.2 433 L508.2 444 M510 433 L510 444 M511.8 433 L511.8 444 M513.6 433 L513.5 444 M515.4 433 L515.2 443.5 M517.2 432.5 L517 443 M519 432 L518.7 442 M520.8 431 L520.5 441" stroke-width="0.9"/>
 <path d="M500 430 A11.5 4.5 0 0 0 522 430" stroke-width="0.8"/>
 <path d="M501.4 442.5 L502 446 Q508.5 448.5 515.2 446 L515.7 442.5" fill="#fff"/>
 <ellipse cx="507.9" cy="452" rx="8.4" ry="2.8" fill="#fff" stroke-width="1.1"/>
 <path d="M499.5 451.5 L499.5 453 A8.4 2.8 0 0 0 516.3 453 L516.3 451.5" />
 <path d="M502.7 455 L502.5 460.5 M512.4 455 L512.6 460.5"/>
 <ellipse cx="506.6" cy="463" rx="7.8" ry="3.2" fill="#fff" stroke-width="1.1"/>
 <path d="M498.8 463 L498.8 464.5 A7.8 3.2 0 0 0 514.4 464.5 L514.4 463"/>
 <path d="M500.8 467.5 L500 471 L497.3 470.8 M511.1 467.5 L512 471"/>
 <!-- lever body -->
 <path d="M497.3 470.8 L492.8 484.5 L490.5 496.1 L491.5 498.7 L494.1 500 L493.4 501.3 L493.4 516.5 L510.8 518 L510.3 502 L509.6 501.3 L511.6 498.1 L512.9 483.8 L511.6 474.4 L499.9 473.4 Z" fill="#fff" stroke-width="1.1"/>
 <path d="M493.4 516.5 L510.8 518" stroke="#fff" stroke-width="1.3"/>
 <path d="M499.9 473.4 L512.2 472.8 M498 477 Q505 478.5 512 476"/>
 <path d="M503.2 477.3 L499.9 486.4 L500.6 502.6 M505 485 L512.9 483.8 M496 484 L494.7 500"/>
 <path d="M500.6 502.6 L501.5 517" stroke-width="2.2"/>
 <path d="M501.5 504 L510.3 501.5 M502.5 510 L511.5 507"/>
 <path d="M504 500.5 Q503.5 497.5 506 496.8 Q509 496.5 509 499 L507 501" stroke-width="1.2"/>
 <path d="M505.5 502.2 L506.8 498"/>
<g transform="translate(18.2 404.6)"><!-- bolt 1125KJ -->
 <line x1="531.5" y1="81" x2="531.5" y2="102"/>
 <path d="M528 103 L530 101.5 L533.5 101.5 L535.5 103 L535.5 107.5 L528 107.5 Z" fill="#fff" stroke-width="1.2"/>
 <path d="M531.7 101.8 L531.7 107.5" stroke-width="0.9"/>
 <ellipse cx="531.8" cy="108.3" rx="5.8" ry="2.3" fill="#fff" stroke-width="1.2"/>
 <path d="M529.8 110.5 L530.2 121 L531.8 122.8 L533.4 121 L533.8 110.5" fill="#fff" stroke-width="1.1"/>
 <path d="M530 112.5 L533.8 113.5 M530.1 115 L533.7 116 M530.2 117.5 L533.6 118.5 M530.3 120 L533.5 121" stroke-width="0.9"/>
 <line x1="531.6" y1="124" x2="531.6" y2="153" stroke-dasharray="3 2"/>
</g><g transform="translate(17.9 400)"><!-- leader 43700 -->
 <line x1="497.7" y1="190.6" x2="497.7" y2="212.7"/>
</g></g>

<g id="labels">
<text transform="translate(10 22) scale(0.955 1)">(2000CC)</text>
<text transform="translate(405 27.5) scale(0.955 1)">43711A</text>
<text transform="translate(508 78.5) scale(0.955 1)">1125KJ</text>
<text transform="translate(475 226) scale(0.955 1)">43700</text>
<text transform="translate(397 272) scale(0.955 1)">43777F</text>
<text transform="translate(63 267.5) scale(0.955 1)">43777F</text>
<text transform="translate(130 265) scale(0.955 1)">1339CC</text>
<text transform="translate(214 263) scale(0.955 1)">43794A</text>
<text transform="translate(167 402) scale(0.955 1)">43777F</text>
<text transform="translate(10 434) scale(0.973 1)">(1600CC&gt;MPI-DOHC)</text>
<text transform="translate(525 481.5) scale(0.955 1)">1125KJ</text>
<text transform="translate(493 627) scale(0.955 1)">43700</text>
<text transform="translate(422 666.5) scale(0.955 1)">43777F</text>
<text transform="translate(144 661.5) scale(0.955 1)">1339CC</text>
<text transform="translate(209 676) scale(0.955 1)">43794A</text>
<text transform="translate(36 757) scale(0.955 1)">43777F</text>
<text transform="translate(197 793) scale(0.955 1)">43777F</text>
<line x1="3" y1="415.5" x2="620" y2="415.5" stroke="#444" stroke-width="1" stroke-dasharray="4 3"/>
</g>

</svg>
</body></html>
